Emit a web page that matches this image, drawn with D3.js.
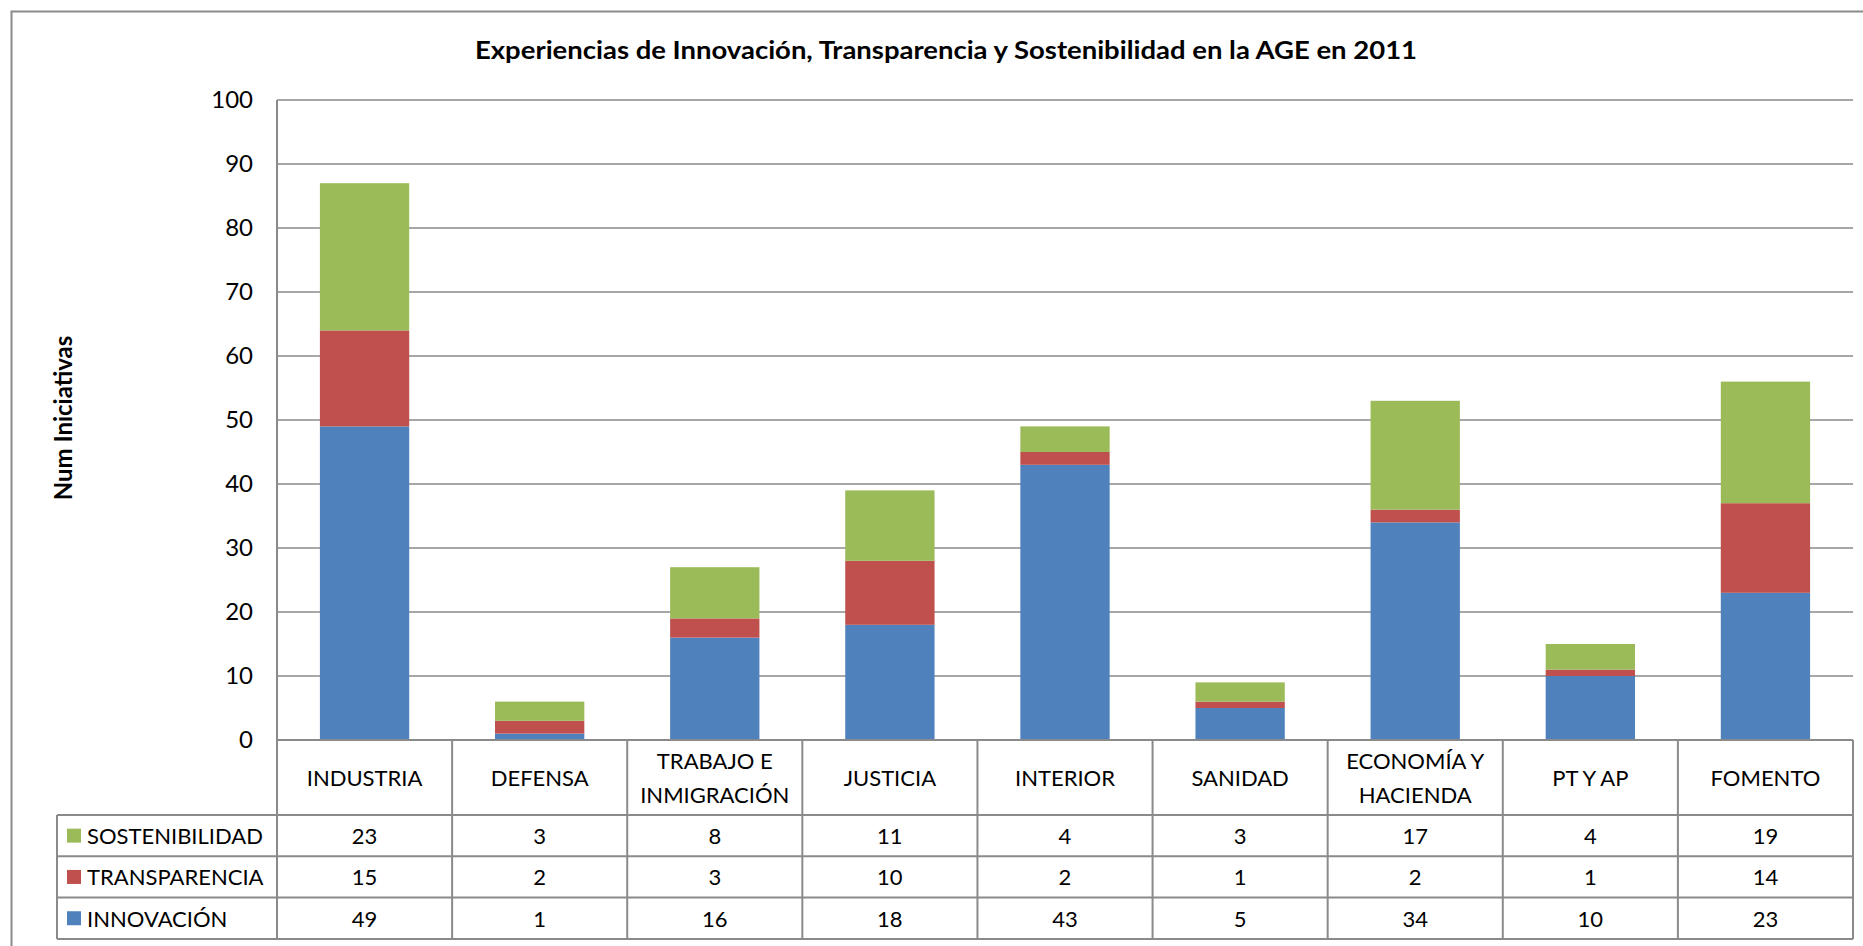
<!DOCTYPE html>
<html><head><meta charset="utf-8">
<script src="https://cdn.jsdelivr.net/npm/d3@7"></script>
<style>html,body{margin:0;padding:0;background:#fff;} svg{display:block;}</style>
</head><body>
<script>
const categories = ["INDUSTRIA","DEFENSA","TRABAJO E|INMIGRACIÓN","JUSTICIA","INTERIOR","SANIDAD","ECONOMÍA Y|HACIENDA","PT Y AP","FOMENTO"];
const innovacion = [49,1,16,18,43,5,34,10,23];
const transparencia = [15,2,3,10,2,1,2,1,14];
const sostenibilidad = [23,3,8,11,4,3,17,4,19];
const seriesNames = ["INNOVACIÓN","TRANSPARENCIA","SOSTENIBILIDAD"];
const seriesColors = ["#4F81BD","#C0504D","#9BBB59"];
const yTicks = [0,10,20,30,40,50,60,70,80,90,100];
const title = "Experiencias de Innovación, Transparencia y Sostenibilidad en la AGE en 2011";
const yTitle = "Num Iniciativas";

const W = 1863, H = 946;
const FONT = "Lato, 'Open Sans', sans-serif";
const svg = d3.select("body").append("svg").attr("width", W).attr("height", H);

const plotL = 277, plotR = 1853, plotT = 100, plotB = 740;
const rowH = 41.3, catRowB = 815, legendL = 57;

// outer border
svg.append("rect").attr("x",11.5).attr("y",11.5).attr("width",W+20).attr("height",H+20)
  .attr("fill","none").attr("stroke","#8a8a8a").attr("stroke-width",2);

// title
svg.append("text").attr("x",946).attr("y",59).attr("text-anchor","middle")
  .attr("font-family",FONT).attr("font-weight","bold").attr("font-size",24).attr("fill","#000")
  .attr("textLength",942).attr("lengthAdjust","spacingAndGlyphs").text(title);

const x = d3.scaleBand().domain(categories).range([plotL, plotR]).padding(0);
const y = d3.scaleLinear().domain([0,100]).range([plotB, plotT]);

// gridlines
svg.append("g").selectAll("line").data(yTicks.filter(t=>t>0)).join("line")
  .attr("x1",plotL).attr("x2",plotR).attr("y1",d=>y(d)).attr("y2",d=>y(d))
  .attr("stroke","#8a8a8a").attr("stroke-width",1.5);

// y axis via d3.axisLeft
const yAxis = svg.append("g").attr("transform",`translate(${plotL},0)`)
  .call(d3.axisLeft(y).tickValues(yTicks).tickSize(0).tickPadding(24));
yAxis.select(".domain").remove();
yAxis.selectAll("text").attr("font-family",FONT).attr("font-size",24).attr("fill","#000");

// y title
svg.append("text").attr("transform","translate(62,418) rotate(-90)").attr("text-anchor","middle")
  .attr("dominant-baseline","central")
  .attr("font-family",FONT).attr("font-weight","bold").attr("font-size",24).attr("fill","#000").text(yTitle);

// stacked bars
const rows = categories.map((c,i)=>({cat:c, "INNOVACIÓN":innovacion[i], "TRANSPARENCIA":transparencia[i], "SOSTENIBILIDAD":sostenibilidad[i]}));
const stack = d3.stack().keys(seriesNames)(rows);
const barW = x.bandwidth()*0.51;
svg.append("g").selectAll("g").data(stack).join("g").attr("fill",(d,i)=>seriesColors[i])
  .selectAll("rect").data(d=>d).join("rect")
  .attr("x",d=>x(d.data.cat)+(x.bandwidth()-barW)/2).attr("width",barW)
  .attr("y",d=>y(d[1])).attr("height",d=>y(d[0])-y(d[1]));

// table
const tableStroke = "#8a8a8a";
const tb = svg.append("g");
const tableRows = [
  {name:"SOSTENIBILIDAD", color:seriesColors[2], vals:sostenibilidad},
  {name:"TRANSPARENCIA", color:seriesColors[1], vals:transparencia},
  {name:"INNOVACIÓN", color:seriesColors[0], vals:innovacion}
];
const tableB = catRowB + rowH*tableRows.length;
tb.append("line").attr("x1",plotL).attr("x2",plotR).attr("y1",plotB).attr("y2",plotB).attr("stroke",tableStroke).attr("stroke-width",2);
[0,1,2,3].forEach(k=>{
  const yy = catRowB + k*rowH;
  tb.append("line").attr("x1",legendL).attr("x2",plotR).attr("y1",yy).attr("y2",yy).attr("stroke",tableStroke).attr("stroke-width",2);
});
categories.forEach(c=>{
  tb.append("line").attr("x1",x(c)).attr("x2",x(c))
   .attr("y1", c===categories[0]?plotT:plotB).attr("y2",tableB)
   .attr("stroke",tableStroke).attr("stroke-width",2);
});
tb.append("line").attr("x1",plotR).attr("x2",plotR).attr("y1",plotB).attr("y2",tableB).attr("stroke",tableStroke).attr("stroke-width",2);
tb.append("line").attr("x1",legendL).attr("x2",legendL).attr("y1",catRowB).attr("y2",tableB).attr("stroke",tableStroke).attr("stroke-width",2);

// category labels
categories.forEach(c=>{
  const lines = c.split("|");
  const cx = x(c)+x.bandwidth()/2, cy = (plotB+catRowB)/2;
  const lh = 34;
  lines.forEach((ln,j)=>{
    tb.append("text").attr("x",cx).attr("y",cy+(j-(lines.length-1)/2)*lh)
      .attr("text-anchor","middle").attr("dominant-baseline","central")
      .attr("font-family",FONT).attr("font-size",22).attr("fill","#000").text(ln);
  });
});

// data rows
tableRows.forEach((r,k)=>{
  const cy = catRowB + k*rowH + rowH/2;
  tb.append("rect").attr("x",67).attr("y",cy-7).attr("width",14).attr("height",14).attr("fill",r.color);
  tb.append("text").attr("x",87).attr("y",cy).attr("dominant-baseline","central")
    .attr("font-family",FONT).attr("font-size",22).attr("fill","#000").text(r.name);
  r.vals.forEach((v,i)=>{
    tb.append("text").attr("x",x(categories[i])+x.bandwidth()/2).attr("y",cy)
      .attr("text-anchor","middle").attr("dominant-baseline","central")
      .attr("font-family",FONT).attr("font-size",22).attr("fill","#000").text(v);
  });
});
</script>
</body></html>
